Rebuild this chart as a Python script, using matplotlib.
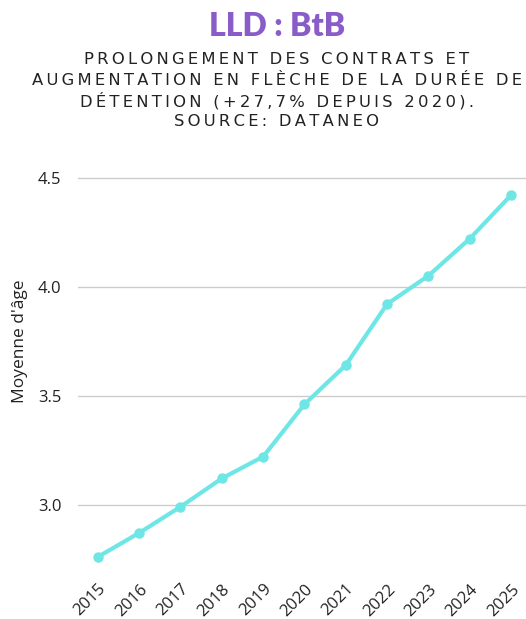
import matplotlib
matplotlib.use("Agg")
import matplotlib.pyplot as plt

years = [2015, 2016, 2017, 2018, 2019, 2020, 2021, 2022, 2023, 2024, 2025]
moyenne_age = [2.76, 2.87, 2.99, 3.12, 3.22, 3.46, 3.64, 3.92, 4.05, 4.22, 4.42]
y_ticks = [3.0, 3.5, 4.0, 4.5]

title = "LLD : BtB"
subtitle_lines = ["PROLONGEMENT DES CONTRATS ET",
                  "AUGMENTATION EN FLÈCHE DE LA DURÉE DE",
                  "DÉTENTION (+27,7% DEPUIS 2020).",
                  "SOURCE: DATANEO"]


def spaced(s, gap="\u200a\u200a"):
    # fake letter spacing
    return gap.join(s)


fig = plt.figure(figsize=(5.26, 6.19), dpi=100)
ax = fig.add_axes([78 / 526, 1 - 570 / 619, 448 / 526, 400 / 619])

ax.plot(years, moyenne_age, color="#6ee6e6", lw=3, marker="o", ms=6.5,
        solid_capstyle="round")

ax.set_xlim(2015 - 0.48, 2025 + 0.36)
ax.set_ylim(2.70, 4.535)
ax.set_yticks(y_ticks)
ax.set_yticklabels([f"{v:.1f}" for v in y_ticks])
ax.set_xticks(years)
ax.set_xticklabels([str(y) for y in years], rotation=45, ha="right",
                   rotation_mode="anchor")
ax.tick_params(length=0, labelsize=12, labelcolor="#222222")
ax.tick_params(axis="y", pad=12)
ax.tick_params(axis="x", pad=8)
for lbl in ax.get_xticklabels() + ax.get_yticklabels():
    lbl.set_family("Open Sans")

ax.grid(axis="y", color="#cccccc", lw=1)
ax.set_axisbelow(True)
for s in ax.spines.values():
    s.set_visible(False)

ax.set_ylabel("Moyenne d'âge", fontsize=12.5, family="Open Sans",
              color="#222222")
ax.yaxis.set_label_coords(-0.111, 0.5725)

cx = 277 / 526
fig.text(cx, 1 - 26 / 619, title, ha="center", va="center",
         fontsize=23, fontweight="heavy", color="#8a5cc8", family="Lato")
for i, line in enumerate(subtitle_lines):
    fig.text(cx, 1 - (58 + 20.7 * i) / 619, spaced(line), ha="center",
             va="center_baseline", fontsize=11.8, color="#222222",
             family=["DejaVu Sans"])

fig.savefig("out.png", dpi=100)
